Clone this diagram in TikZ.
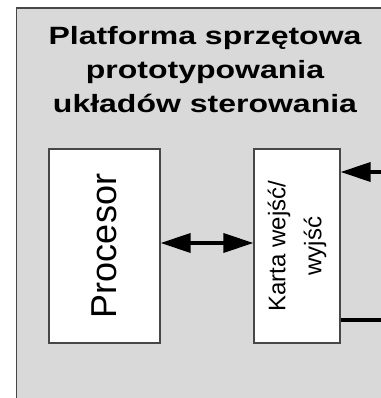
\documentclass[tikz,border=0pt]{standalone}
\usepackage{fontspec}
\setmainfont{Liberation Sans}
\newfontfamily\tytul[FakeStretch=1.28]{Liberation Sans}
\usetikzlibrary{arrows.meta}
\definecolor{tlo}{HTML}{D9D9D9}
\definecolor{ramka}{HTML}{474747}
\tikzset{
  blok/.style={draw=ramka, line width=1.2pt, fill=white, minimum width=194pt, inner sep=0pt, rotate=90},
  grot/.tip={Triangle[length=30pt, width=19pt]},
  strz/.style={line width=3.5pt, -grot},
}
\begin{document}
\begin{tikzpicture}[x=1pt, y=1pt]
  \useasboundingbox (0,0) rectangle (380,398);
  \draw[draw=ramka, line width=1.4pt, fill=tlo] (16.5,390) rectangle (384,-4);
  \node[align=center, inner sep=0pt, anchor=north, font=\tytul\fontsize{25}{30}\selectfont\bfseries] (platforma) at (205,372) {Platforma sprzętowa\\[4pt]prototypowania\\[4pt]układów sterowania};

  % bloki
  \node[blok, minimum height=111pt] (procesor) at (104.5,152) {\fontsize{36}{40}\selectfont Procesor};
  \node[blok, minimum height=86pt, align=center, font=\fontsize{24}{29}\selectfont] (karta) at (297,152) {Karta wejść/\\[7pt]wyjść};

  % polaczenia
  \coordinate (we) at (381,226);
  \coordinate (wy) at (381,78);
  \draw[strz, grot-grot] (procesor.south |- 0,155) -- (karta.north |- 0,155);
  \draw[strz] (we) -- (karta.south |- we);
  \draw[line width=3.5pt] (karta.south |- wy) -- (wy);
\end{tikzpicture}
\end{document}
